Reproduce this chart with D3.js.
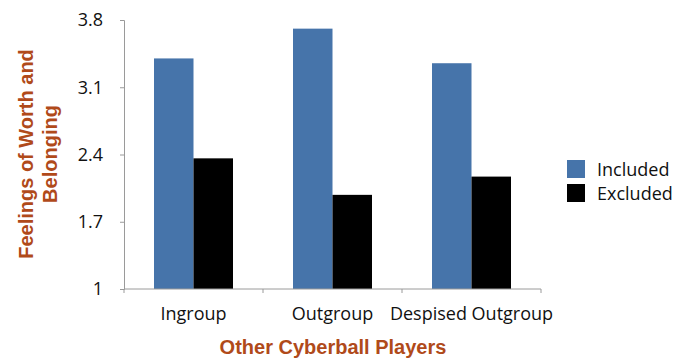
<!DOCTYPE html>
<meta charset="utf-8">
<script src="https://d3js.org/d3.v7.min.js"></script>
<style>
  body { margin: 0; background: #fff; }
</style>
<div id="chart"></div>
<script>
  // data
  var groups = ["Ingroup", "Outgroup", "Despised Outgroup"];
  var series = ["Included", "Excluded"];
  var included = [3.40, 3.71, 3.35];
  var excluded = [2.36, 1.98, 2.17];
  var yTicks = [1, 1.7, 2.4, 3.1, 3.8];
  var colors = ["#4674aa", "#000000"];

  var margin = {top: 20, right: 141, bottom: 71, left: 124},
    width = 682 - margin.left - margin.right,
    height = 360 - margin.top - margin.bottom;

  var svg = d3.select("#chart")
    .append("svg")
    .attr("width", 682)
    .attr("height", 360)
    .append("g")
    .attr("transform", "translate(" + margin.left + "," + margin.top + ")");

  var x = d3.scaleBand()
    .domain(groups)
    .range([0, width])
    .paddingInner(0)
    .paddingOuter(0);

  var x1 = d3.scaleBand()
    .domain(series)
    .range([30, x.bandwidth() - 30]);

  var y = d3.scaleLinear()
    .domain([1, 3.8])
    .range([height, 0]);

  var rows = groups.map(function (g, i) {
    return {group: g, values: [included[i], excluded[i]]};
  });

  // bars
  var grp = svg.selectAll(".grp")
    .data(rows)
    .enter()
    .append("g")
    .attr("transform", function (d) { return "translate(" + x(d.group) + ",0)"; });

  grp.selectAll("rect")
    .data(function (d) { return d.values.map(function (v, j) { return {s: series[j], v: v, c: colors[j]}; }); })
    .enter()
    .append("rect")
    .attr("x", function (d) { return x1(d.s); })
    .attr("width", x1.bandwidth())
    .attr("y", function (d) { return y(d.v); })
    .attr("height", function (d) { return height - y(d.v); })
    .style("fill", function (d) { return d.c; });

  // Y axis
  var yAxis = svg.append("g")
    .call(d3.axisLeft(y).tickValues(yTicks).tickFormat(d3.format("")).tickSizeOuter(0).tickSize(4).tickPadding(17));
  yAxis.select(".domain").attr("stroke", "#9a9a9a");
  yAxis.selectAll(".tick line").attr("stroke", "#9a9a9a");
  yAxis.selectAll("text")
    .style("font-family", "'Open Sans', sans-serif")
    .style("font-size", "18px")
    .style("fill", "#111");

  // X axis with ticks at band edges
  var xAxis = svg.append("g")
    .attr("transform", "translate(0," + height + ")");
  xAxis.append("line")
    .attr("x1", 0).attr("x2", width)
    .attr("stroke", "#9a9a9a");
  var edges = groups.map(function (g) { return x(g); }).concat([width]);
  xAxis.selectAll(".edge")
    .data(edges)
    .enter()
    .append("line")
    .attr("x1", function (d) { return d; })
    .attr("x2", function (d) { return d; })
    .attr("y1", 0).attr("y2", 4)
    .attr("stroke", "#9a9a9a");
  xAxis.selectAll(".lab")
    .data(groups)
    .enter()
    .append("text")
    .attr("x", function (d) { return x(d) + x.bandwidth() / 2; })
    .attr("y", 31)
    .attr("text-anchor", "middle")
    .style("font-family", "'Open Sans', sans-serif")
    .style("font-size", "18px")
    .style("fill", "#111")
    .text(function (d) { return d; });

  // axis titles
  svg.append("text")
    .attr("x", 333 - margin.left)
    .attr("y", height + 65)
    .attr("text-anchor", "middle")
    .style("font-family", "'Liberation Sans', Arial, sans-serif")
    .style("font-weight", "bold")
    .style("font-size", "20px")
    .style("fill", "#b04a1a")
    .text("Other Cyberball Players");

  var yTitle = svg.append("text")
    .attr("transform", "rotate(-90)")
    .attr("text-anchor", "middle")
    .style("font-family", "'Liberation Sans', Arial, sans-serif")
    .style("font-weight", "bold")
    .style("font-size", "20px")
    .style("fill", "#b04a1a");
  yTitle.append("tspan")
    .attr("x", -(154 - margin.top))
    .attr("y", 33 - margin.left)
    .text("Feelings of Worth and");
  yTitle.append("tspan")
    .attr("x", -(154 - margin.top))
    .attr("y", 57 - margin.left)
    .text("Belonging");

  // legend
  var legend = svg.selectAll(".legend")
    .data(series)
    .enter()
    .append("g")
    .attr("transform", function (d, i) { return "translate(" + (567 - margin.left) + "," + (160 + i * 24 - margin.top) + ")"; });
  legend.append("rect")
    .attr("width", 18).attr("height", 18)
    .style("fill", function (d, i) { return colors[i]; });
  legend.append("text")
    .attr("x", 30)
    .attr("y", 16)
    .style("font-family", "'Open Sans', sans-serif")
    .style("font-size", "18px")
    .style("fill", "#111")
    .text(function (d) { return d; });
</script>
